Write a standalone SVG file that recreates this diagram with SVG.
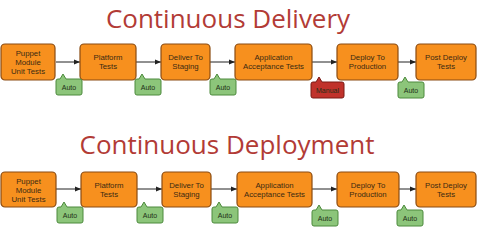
<svg xmlns="http://www.w3.org/2000/svg" width="478" height="227" viewBox="0 0 478 227">
<defs>
<marker id="ah" viewBox="0 0 6 6" refX="6" refY="3" markerWidth="6" markerHeight="6" orient="auto" markerUnits="userSpaceOnUse"><path d="M0,0.5 L6,3 L0,5.5 z" fill="#222"/></marker>
<path id="callA" d="M2,0 H4 L7,-5 L10,0 H24 a2,2 0 0 1 2,2 V14 a2,2 0 0 1 -2,2 H2 a2,2 0 0 1 -2,-2 V2 a2,2 0 0 1 2,-2 z"/>
<path id="callM" d="M2,0 H5 L8,-5 L11,0 H31 a2,2 0 0 1 2,2 V14 a2,2 0 0 1 -2,2 H2 a2,2 0 0 1 -2,-2 V2 a2,2 0 0 1 2,-2 z"/>
</defs>
<style>
.title{font-family:"Open Sans","Liberation Sans",sans-serif;font-size:26px;fill:#b23b36;text-anchor:middle}
.box{fill:#f7901e;stroke:#8a4b12;stroke-width:1.2}
.bt{font-family:"Liberation Sans","Open Sans",sans-serif;font-size:7.8px;fill:#3b2a12;text-anchor:middle}
.auto{fill:#8cc57a;stroke:#4c8a3c;stroke-width:1}
.man{fill:#c0322b;stroke:#7a1a15;stroke-width:1}
.lt{font-family:"Liberation Sans","Open Sans",sans-serif;font-size:7px;fill:#1e2e16;text-anchor:middle}
.conn line{stroke:#222;stroke-width:1;marker-end:url(#ah)}
</style>
<rect width="478" height="227" fill="#fff"/>
<text class="title" x="228" y="28">Continuous Delivery</text>
<text class="title" x="227" y="154">Continuous Deployment</text>

<g id="connectors" class="conn">
<line x1="56" y1="62" x2="80" y2="62"/>
<line x1="136" y1="62" x2="161" y2="62"/>
<line x1="210" y1="62" x2="235" y2="62"/>
<line x1="312" y1="62" x2="337" y2="62"/>
<line x1="398" y1="62" x2="416" y2="62"/>
<line x1="56" y1="189" x2="81" y2="189"/>
<line x1="137" y1="189" x2="162" y2="189"/>
<line x1="211" y1="189" x2="237" y2="189"/>
<line x1="312" y1="189" x2="337" y2="189"/>
<line x1="399" y1="189" x2="416" y2="189"/>
</g>

<g id="d1"><rect class="box" x="1" y="44" width="54" height="36" rx="4"/><text class="bt" x="28" y="56">Puppet</text><text class="bt" x="28" y="65">Module</text><text class="bt" x="28" y="74">Unit Tests</text></g>
<g id="d2"><rect class="box" x="80" y="44" width="56" height="36" rx="4"/><text class="bt" x="108" y="60">Platform</text><text class="bt" x="108" y="69">Tests</text></g>
<g id="d3"><rect class="box" x="161" y="44" width="49" height="36" rx="4"/><text class="bt" x="185.5" y="60">Deliver To</text><text class="bt" x="185.5" y="69">Staging</text></g>
<g id="d4"><rect class="box" x="235" y="44" width="77" height="36" rx="4"/><text class="bt" x="273.5" y="60">Application</text><text class="bt" x="273.5" y="69">Acceptance Tests</text></g>
<g id="d5"><rect class="box" x="337" y="44" width="61" height="36" rx="4"/><text class="bt" x="367.5" y="60">Deploy To</text><text class="bt" x="367.5" y="69">Production</text></g>
<g id="d6"><rect class="box" x="416" y="44" width="60" height="36" rx="4"/><text class="bt" x="446" y="60">Post Deploy</text><text class="bt" x="446" y="69">Tests</text></g>

<g id="la1"><use href="#callA" class="auto" x="56" y="79"/><text class="lt" x="69" y="90">Auto</text></g>
<g id="la2"><use href="#callA" class="auto" x="135" y="79"/><text class="lt" x="148" y="90">Auto</text></g>
<g id="la3"><use href="#callA" class="auto" x="210" y="79"/><text class="lt" x="223" y="90">Auto</text></g>
<g id="lm4"><use href="#callM" class="man" x="311" y="82"/><text class="lt" x="327.5" y="93">Manual</text></g>
<g id="la5"><use href="#callA" class="auto" x="398" y="82"/><text class="lt" x="411" y="93">Auto</text></g>

<g id="p1"><rect class="box" x="1" y="172" width="55" height="35" rx="4"/><text class="bt" x="28.5" y="184">Puppet</text><text class="bt" x="28.5" y="193">Module</text><text class="bt" x="28.5" y="202">Unit Tests</text></g>
<g id="p2"><rect class="box" x="81" y="172" width="56" height="35" rx="4"/><text class="bt" x="109" y="188">Platform</text><text class="bt" x="109" y="197">Tests</text></g>
<g id="p3"><rect class="box" x="162" y="172" width="49" height="35" rx="4"/><text class="bt" x="186.5" y="188">Deliver To</text><text class="bt" x="186.5" y="197">Staging</text></g>
<g id="p4"><rect class="box" x="237" y="172" width="75" height="35" rx="4"/><text class="bt" x="274.5" y="188">Application</text><text class="bt" x="274.5" y="197">Acceptance Tests</text></g>
<g id="p5"><rect class="box" x="337" y="172" width="62" height="35" rx="4"/><text class="bt" x="368" y="188">Deploy To</text><text class="bt" x="368" y="197">Production</text></g>
<g id="p6"><rect class="box" x="416" y="172" width="60" height="35" rx="4"/><text class="bt" x="446" y="188">Post Deploy</text><text class="bt" x="446" y="197">Tests</text></g>

<g id="pa1"><use href="#callA" class="auto" x="57" y="207"/><text class="lt" x="70" y="218">Auto</text></g>
<g id="pa2"><use href="#callA" class="auto" x="137" y="207"/><text class="lt" x="150" y="218">Auto</text></g>
<g id="pa3"><use href="#callA" class="auto" x="212" y="207"/><text class="lt" x="225" y="218">Auto</text></g>
<g id="pa4"><use href="#callA" class="auto" x="312" y="210"/><text class="lt" x="325" y="221">Auto</text></g>
<g id="pa5"><use href="#callA" class="auto" x="397" y="210"/><text class="lt" x="410" y="221">Auto</text></g>
</svg>
